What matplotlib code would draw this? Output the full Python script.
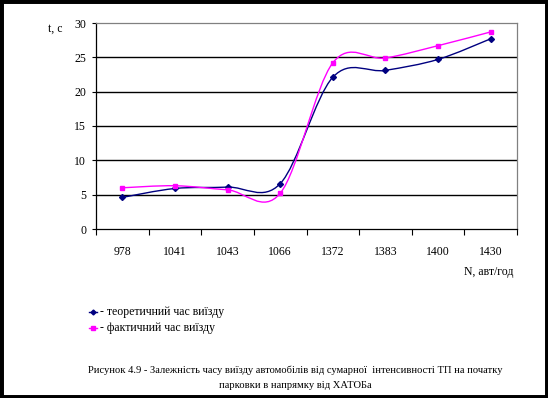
import numpy as np
import matplotlib
matplotlib.use("Agg")
import matplotlib.pyplot as plt
from matplotlib.path import Path
from matplotlib.patches import PathPatch, Rectangle
from matplotlib.lines import Line2D

plt.rcParams['font.family'] = ['Liberation Serif', 'DejaVu Serif']

# дані
kategorii = ["978", "1041", "1043", "1066", "1372", "1383", "1400", "1430"]
teor = [4.6, 5.9, 6.1, 6.6, 22.1, 23.1, 24.7, 27.7]
fakt = [6.0, 6.3, 5.7, 5.2, 24.2, 24.9, 26.7, 28.7]

SYNII = "#000080"
ROZH = "#ff00ff"


def gladka_kryva(ys):
    # згладжена лінія як в Excel (катмулл-ром через безьє)
    xs = np.arange(len(ys), dtype=float)
    pts = np.column_stack([xs, np.asarray(ys, dtype=float)])
    ext = np.vstack([pts[0], pts, pts[-1]])
    verts = [tuple(pts[0])]
    codes = [Path.MOVETO]
    for i in range(len(pts) - 1):
        p0, p1, p2, p3 = ext[i], ext[i + 1], ext[i + 2], ext[i + 3]
        c1 = p1 + (p2 - p0) / 6.0
        c2 = p2 - (p3 - p1) / 6.0
        verts += [tuple(c1), tuple(c2), tuple(p2)]
        codes += [Path.CURVE4] * 3
    return Path(verts, codes)


fig = plt.figure(figsize=(5.48, 3.98), dpi=100)
ax = fig.add_axes([96 / 548, 1 - 229 / 398, 421 / 548, 206 / 398])

x = np.arange(len(kategorii))
for ys, kol, mk, ms in [(teor, SYNII, "D", 3), (fakt, ROZH, "s", 3.5)]:
    ax.add_patch(PathPatch(gladka_kryva(ys), facecolor="none", edgecolor=kol, lw=1.0, zorder=3))
    ax.plot(x, ys, linestyle="none", marker=mk, ms=ms, color=kol, zorder=4)

ax.set_xlim(-0.5, len(kategorii) - 0.5)
ax.set_ylim(0, 30)
ax.set_yticks(range(0, 31, 5))
ax.set_xticks(x)
ax.set_xticklabels(kategorii)
ax.set_xticks(np.arange(-0.5, len(kategorii)), minor=True)
ax.tick_params(axis="x", which="major", length=0, pad=12, labelsize=8.5)
ax.tick_params(axis="x", which="minor", length=4, width=0.8, color="black", direction="out")
ax.tick_params(axis="y", length=3, width=0.8, pad=4, labelsize=8.5)

for yv in range(5, 30, 5):
    ax.axhline(yv, color="black", lw=1, zorder=1)

ax.spines["top"].set_color("#808080")
ax.spines["right"].set_color("#808080")
ax.spines["left"].set_color("black")
ax.spines["bottom"].set_color("black")
for s in ax.spines.values():
    s.set_linewidth(0.9)

fig.text(55 / 548, 1 - 29 / 398, "t, c", fontsize=8.5, ha="center", va="center")
fig.text(513 / 548, 1 - 272 / 398, "N, авт/год", fontsize=8.5, ha="right", va="center")

# легенда
for yy, kol, mk, txt in [(312, SYNII, "D", "- теоретичний час виїзду"),
                         (328, ROZH, "s", "- фактичний час виїзду")]:
    fy = 1 - yy / 398
    fig.add_artist(Line2D([89 / 548, 97 / 548], [fy, fy], color=kol, lw=1,
                          transform=fig.transFigure))
    fig.add_artist(Line2D([93 / 548], [fy], color=kol, marker=mk, ms=2.5,
                          linestyle="none", transform=fig.transFigure))
    fig.text(100 / 548, fy, txt, fontsize=8.5, ha="left", va="center")

fig.text(295 / 548, 1 - 370 / 398,
         "Рисунок 4.9 - Залежність часу виїзду автомобілів від сумарної  інтенсивності ТП на початку",
         fontsize=7.6, ha="center", va="center")
fig.text(295 / 548, 1 - 386 / 398, "парковки в напрямку від ХАТОБа",
         fontsize=7.6, ha="center", va="center")

# рамка
fig.add_artist(Rectangle((0.0, 0.0), 1, 1, transform=fig.transFigure, fill=False,
                         edgecolor="black", lw=5))

fig.savefig("out.png", dpi=100)
